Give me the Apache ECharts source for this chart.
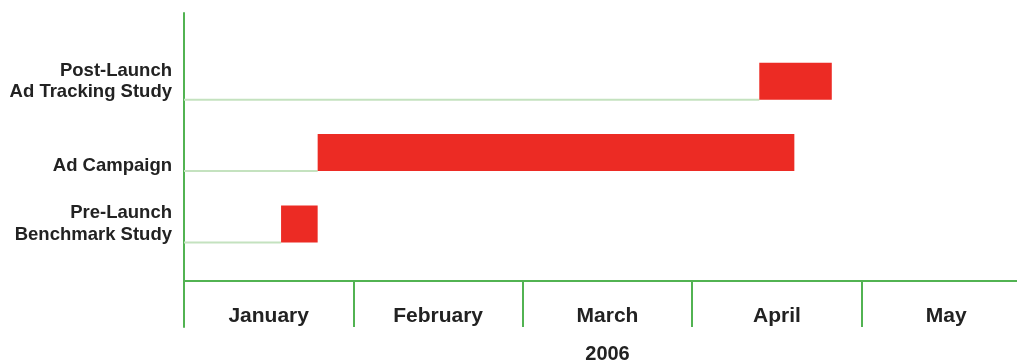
<!DOCTYPE html>
<html>
<head>
<meta charset="utf-8">
<style>
html,body{margin:0;padding:0;background:#fff;}
#chart{width:1017px;height:362px;}
</style>
<script src="https://cdn.jsdelivr.net/npm/echarts@6/dist/echarts.min.js"></script>
</head>
<body>
<div id="chart"></div>
<script>
// Data (x values in months from 1 Jan 2006)
const tasks = ['Pre-Launch\nBenchmark Study', 'Ad Campaign', 'Post-Launch\nAd Tracking Study'];
const taskStart = [0.573, 0.789, 3.396];
const taskEnd = [0.789, 3.603, 3.824];
const months = ['January', 'February', 'March', 'April', 'May'];
const yearLabel = '2006';

const GREEN = '#52b352';
const LIGHTGREEN = '#c4e2bf';
const RED = '#ec2b24';
const TEXT = '#222222';
const FONT = '"Liberation Sans", Arial, Helvetica, sans-serif';

const ganttData = tasks.map((t, i) => [i, taskStart[i], taskEnd[i]]);

const chart = echarts.init(document.getElementById('chart'));
chart.setOption({
  animation: false,
  backgroundColor: '#ffffff',
  grid: [
    { left: 184, width: 847, top: 13, bottom: 81, outerBoundsMode: 'none', containLabel: false },      // frame
    { left: 184, width: 847, top: 281, bottom: 35, outerBoundsMode: 'none', containLabel: false },     // month band
    { left: 184, width: 847, top: 45.5, bottom: 102.3, outerBoundsMode: 'none', containLabel: false }  // task rows
  ],
  xAxis: [
    {
      gridIndex: 0, type: 'value', min: 0, max: 5,
      axisLine: { show: true, lineStyle: { color: GREEN, width: 2 } },
      axisTick: { show: false }, axisLabel: { show: false }, splitLine: { show: false }
    },
    {
      gridIndex: 1, type: 'category', data: months, boundaryGap: true, position: 'bottom',
      axisLine: { show: false }, axisTick: { show: false },
      axisLabel: { inside: true, margin: 0, interval: 0, color: TEXT, fontSize: 21, fontWeight: 'bold', fontFamily: FONT },
      splitLine: { show: true, interval: 0, lineStyle: { color: GREEN, width: 2 } },
      name: yearLabel, nameLocation: 'middle', nameGap: 17,
      nameTextStyle: { color: TEXT, fontSize: 20, fontWeight: 'bold', fontFamily: FONT, verticalAlign: 'top' }
    },
    {
      gridIndex: 2, type: 'value', min: 0, max: 5, show: false
    }
  ],
  yAxis: [
    {
      gridIndex: 0, type: 'value', min: 0, max: 1,
      axisLine: { show: true, lineStyle: { color: GREEN, width: 2 } },
      axisTick: { show: false }, axisLabel: { show: false }, splitLine: { show: false }
    },
    {
      gridIndex: 1, type: 'value', min: 0, max: 1,
      axisLine: { show: true, lineStyle: { color: GREEN, width: 2 } },
      axisTick: { show: false }, axisLabel: { show: false }, splitLine: { show: false }
    },
    {
      gridIndex: 2, type: 'category', data: tasks, boundaryGap: true,
      axisLine: { show: false }, axisTick: { show: false }, splitLine: { show: false },
      axisLabel: {
        margin: 12, color: TEXT, fontSize: 18.5, fontWeight: 'bold', fontFamily: FONT, lineHeight: 21.5, align: 'right',
        formatter: function (v) { return v.indexOf('\n') < 0 ? '{low|' + v + '}' : v; },
        rich: { low: { color: TEXT, fontSize: 18.5, fontWeight: 'bold', fontFamily: FONT, lineHeight: 21.5, padding: [27, 0, 0, 0] } }
      }
    }
  ],
  series: [{
    type: 'custom',
    xAxisIndex: 2, yAxisIndex: 2,
    data: ganttData,
    encode: { x: [1, 2], y: 0 },
    clip: false,
    renderItem: function (params, api) {
      const idx = api.value(0);
      const p0 = api.coord([0, idx]);
      const ps = api.coord([api.value(1), idx]);
      const pe = api.coord([api.value(2), idx]);
      const band = api.size([0, 1])[1];
      const h = band * 0.518;
      const top = ps[1] - h / 2;
      const bottom = ps[1] + h / 2;
      return {
        type: 'group',
        children: [
          { type: 'line', shape: { x1: p0[0], y1: bottom, x2: ps[0], y2: bottom },
            style: { stroke: LIGHTGREEN, lineWidth: 2 } },
          { type: 'rect', shape: { x: ps[0], y: top, width: pe[0] - ps[0], height: h },
            style: { fill: RED } }
        ]
      };
    }
  }]
});
</script>
</body>
</html>
